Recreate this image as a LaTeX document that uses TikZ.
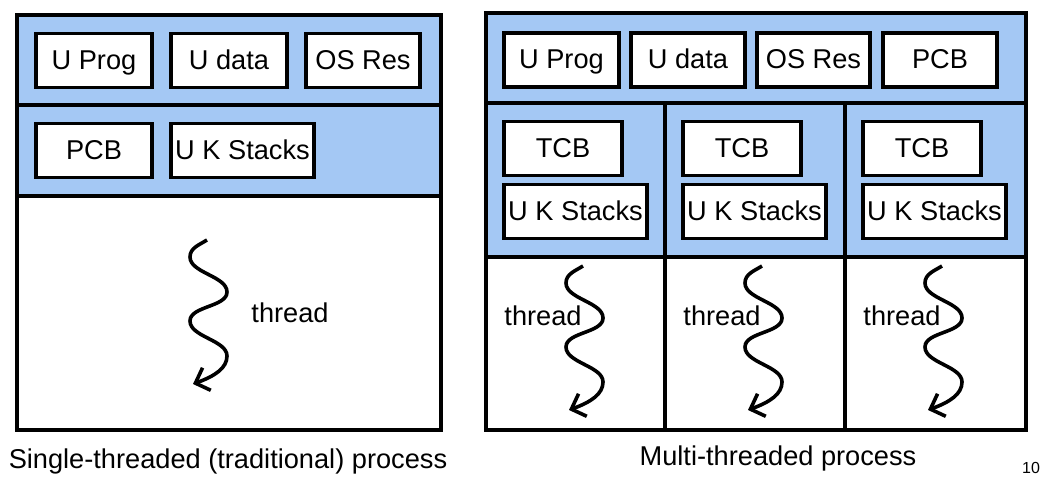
\documentclass[tikz,border=0pt]{standalone}
\usepackage{fontspec}
\setmainfont{Liberation Sans}
\usetikzlibrary{arrows.meta}
\definecolor{procblue}{RGB}{164,200,244}
\tikzset{
  blk/.style={draw,line width=1.6pt,fill=white,inner sep=0pt,minimum height=27pt,
    text height=9.8pt,text depth=1pt,font=\fontsize{13.6}{16}\selectfont},
  lbl/.style={inner sep=0pt,font=\fontsize{13.6}{16}\selectfont},
  wall/.style={line width=2pt},
}
% squiggly thread arrow, top end at (#1,#2)
\newcommand\threadline[2]{\draw[->,line width=1.8pt,shift={(#1,#2)}]
  (0,0) .. controls (-8,5) and (-17,8) .. (-17,17)
  .. controls (-17,33) and (20,36) .. (20,52)
  .. controls (20,67) and (-17,66) .. (-17,81)
  .. controls (-17,97) and (20,100) .. (20,116)
  .. controls (20,128) and (8,136) .. (-14,144);}
\begin{document}
\begin{tikzpicture}[x=0.5pt,y=-0.5pt,>={Straight Barb[length=6pt,width=12pt]}]
  \useasboundingbox (0,0) rectangle (1044,482);
  % single-threaded process
  \fill[procblue] (17,15) rectangle (441,196);
  \draw[wall] (17,15) rectangle (441,430) (17,105) -- (441,105) (17,196) -- (441,196);
  \node[blk,minimum width=58pt] (sprog) at (94,60.5) {U Prog};
  \node[blk,minimum width=58pt] (sdata) at (229,60.5) {U data};
  \node[blk,minimum width=57pt] (sres) at (363,60.5) {OS Res};
  \node[blk,minimum width=58pt] (spcb) at (94,150.5) {PCB};
  \node[blk,minimum width=71.5pt] (sstk) at (242.5,150.5) {U K Stacks};
  \threadline{207}{240}
  \node[lbl] (sthr) at (290,313) {thread};
  \node[lbl] (scap) at (228,461) {Single-threaded (traditional) process};
  % multi-threaded process
  \fill[procblue] (486,13) rectangle (1026,257);
  \draw[wall] (486,13) rectangle (1026,430) (486,103) -- (1026,103) (486,257) -- (1026,257)
    (665,103) -- (665,430) (845,103) -- (845,430);
  \node[blk,minimum width=57.5pt] (mprog) at (561.5,60) {U Prog};
  \node[blk,minimum width=57pt] (mdata) at (688,60) {U data};
  \node[blk,minimum width=56.5pt] (mres) at (813.5,60) {OS Res};
  \node[blk,minimum width=57pt] (mpcb) at (940,60) {PCB};
  \foreach \c/\i in {486/1,665/2,845/3}{
    \node[blk,minimum width=59pt] (tcb\i) at (\c+77,148.5) {TCB};
    \node[blk,minimum width=71.5pt] (stk\i) at (\c+89.5,211.5) {U K Stacks};
    \node[lbl] (thr\i) at (\c+57,316) {thread};
    \threadline{\c+97}{266}
  }
  \node[lbl] (mcap) at (778,458) {Multi-threaded process};
  \node[lbl,font=\fontsize{8}{10}\selectfont] (pgno) at (1031,468) {10};
\end{tikzpicture}
\end{document}
